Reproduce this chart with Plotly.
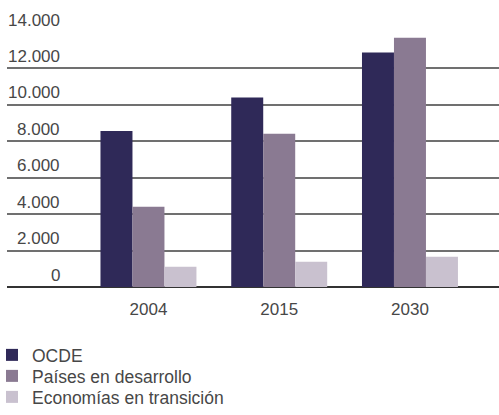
import plotly.graph_objects as go

# Categories and series
years = ["2004", "2015", "2030"]
ocde = [8570, 10400, 12870]
paises_desarrollo = [4410, 8420, 13690]
economias_transicion = [1110, 1390, 1660]

y_ticks = [0, 2000, 4000, 6000, 8000, 10000, 12000, 14000]
y_tick_labels = ["0", "2.000", "4.000", "6.000", "8.000", "10.000", "12.000", "14.000"]

series = [
    ("OCDE", ocde, "#2f2958"),
    ("Países en desarrollo", paises_desarrollo, "#8a7a92"),
    ("Economías en transición", economias_transicion, "#c9c1cf"),
]

FONT = "Liberation Sans, Arial, sans-serif"
TEXT_COLOR = "#474747"
W, H = 499, 415
M_L, M_R, M_T, M_B = 7, 0, 32, 128
PLOT_W = W - M_L - M_R
PLOT_H = H - M_T - M_B

fig = go.Figure()
legend_ids = ["legend", "legend2", "legend3"]
for (name, values, color), lg in zip(series, legend_ids):
    fig.add_trace(go.Bar(
        x=years, y=values, name=name, legend=lg,
        marker=dict(color=color, line=dict(width=0)),
    ))

# Value labels sit above each gridline, right-aligned
for val, label in zip(y_ticks, y_tick_labels):
    fig.add_annotation(
        x=(62 - M_L) / PLOT_W, xref="paper", xanchor="right",
        y=val, yref="y", yanchor="middle", yshift=12,
        text=label, showarrow=False,
        font=dict(family=FONT, size=17, color=TEXT_COLOR),
    )

# One legend per series, stacked below the chart
def legend_at(row_center_px):
    return dict(
        orientation="v", xref="paper", yref="paper",
        x=(-8 - M_L) / PLOT_W,
        y=(H - M_B - row_center_px) / PLOT_H,
        xanchor="left", yanchor="middle",
        font=dict(family=FONT, size=17.5, color=TEXT_COLOR),
        bgcolor="rgba(0,0,0,0)", borderwidth=0,
    )

fig.update_layout(
    width=W, height=H,
    margin=dict(l=M_L, r=M_R, t=M_T, b=M_B, autoexpand=False),
    paper_bgcolor="white", plot_bgcolor="white",
    barmode="group", bargap=0.266, bargroupgap=0,
    font=dict(family=FONT, size=17, color=TEXT_COLOR),
    showlegend=True,
    legend=legend_at(355),
    legend2=legend_at(376),
    legend3=legend_at(397),
    xaxis=dict(
        type="category", range=[-1.082, 2.681],
        showgrid=False, zeroline=False, showline=False,
        ticks="", ticklabelstandoff=10,
        tickfont=dict(family=FONT, size=17, color=TEXT_COLOR),
    ),
    yaxis=dict(
        range=[0, 14000], tickvals=y_ticks, showticklabels=False,
        showgrid=True, gridcolor="#707070", gridwidth=2,
        zeroline=True, zerolinecolor="#333333", zerolinewidth=2,
        showline=False, ticks="",
    ),
)

fig.write_html("out.html")
